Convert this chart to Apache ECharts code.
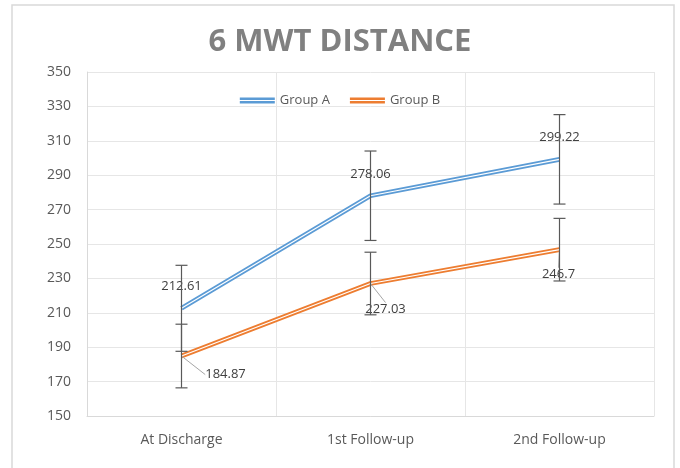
<!doctype html>
<html lang="en">
<head>
    <meta charset="utf-8">
    <title>6 MWT Distance</title>
    <style>
        html, body { margin: 0; padding: 0; background: #fff; }
        #chart { width: 680px; height: 468px; }
    </style>
</head>
<body>
    <div id="chart"></div>
    <script src="https://cdn.jsdelivr.net/npm/echarts@6/dist/echarts.min.js"></script>
    <script>
        var categories = ['At Discharge', '1st Follow-up', '2nd Follow-up'];
        var groupA = [212.61, 278.06, 299.22];
        var groupB = [184.87, 227.03, 246.7];
        var errA = [25, 26, 26];
        var errB = [18.5, 18.2, 18.2];

        var colorA = '#5b9bd5';
        var colorB = '#ed7d31';
        var font = 'Open Sans';

        // offsets for the Group B callouts, like the excel labels
        var labelOffsetB = [[44, 7], [15, 14], [-1, 13]];

        function errorSeries(values, errs) {
            return {
                type: 'custom',
                silent: true,
                z: 5,
                data: values.map(function (v, i) { return [i, v - errs[i], v + errs[i]]; }),
                renderItem: function (params, api) {
                    var lo = api.coord([api.value(0), api.value(1)]);
                    var hi = api.coord([api.value(0), api.value(2)]);
                    var w = 6;
                    var style = { stroke: '#595959', lineWidth: 1.2 };
                    return {
                        type: 'group',
                        children: [
                            { type: 'line', shape: { x1: hi[0], y1: hi[1], x2: lo[0], y2: lo[1] }, style: style },
                            { type: 'line', shape: { x1: hi[0] - w, y1: hi[1], x2: hi[0] + w, y2: hi[1] }, style: style },
                            { type: 'line', shape: { x1: lo[0] - w, y1: lo[1], x2: lo[0] + w, y2: lo[1] }, style: style }
                        ]
                    };
                }
            };
        }

        function innerLine(values) {
            return {
                type: 'line',
                data: values,
                silent: true,
                symbol: 'none',
                z: 3,
                lineStyle: { color: '#fff', width: 1.2 },
                animation: false
            };
        }

        var chart = echarts.init(document.getElementById('chart'));
        chart.setOption({
            animation: false,
            backgroundColor: '#fff',
            graphic: [{
                type: 'polyline',
                shape: { points: [[12, 468], [12, 5], [674, 5], [674, 468]] },
                style: { stroke: '#d9d9d9', lineWidth: 1.5, fill: null }
            }],
            title: {
                text: '6 MWT DISTANCE',
                left: 'center',
                top: 22,
                textStyle: { fontFamily: font, fontWeight: 'bold', fontSize: 31, color: '#808080' }
            },
            legend: {
                top: 89,
                left: 'center',
                itemWidth: 35,
                itemHeight: 6,
                itemGap: 20,
                textStyle: { fontFamily: font, fontSize: 13, color: '#595959' },
                data: [
                    { name: 'Group A', icon: 'path://M0,0H35V2.4H0ZM0,3.6H35V6H0Z', itemStyle: { color: colorA } },
                    { name: 'Group B', icon: 'path://M0,0H35V2.4H0ZM0,3.6H35V6H0Z', itemStyle: { color: colorB } }
                ]
            },
            grid: { left: 87, right: 26, top: 72, bottom: 52 },
            xAxis: {
                type: 'category',
                data: categories,
                boundaryGap: true,
                axisLine: { lineStyle: { color: '#d9d9d9' } },
                axisTick: { show: false },
                axisLabel: { fontFamily: font, fontSize: 14, color: '#595959', margin: 17 },
                splitLine: { show: true, lineStyle: { color: '#e6e6e6' } }
            },
            yAxis: {
                type: 'value',
                min: 150,
                max: 350,
                interval: 20,
                axisLine: { show: true, lineStyle: { color: '#d9d9d9' } },
                axisTick: { show: false },
                axisLabel: { fontFamily: font, fontSize: 14, color: '#595959', margin: 16 },
                splitLine: { lineStyle: { color: '#e6e6e6' } }
            },
            series: [
                {
                    name: 'Group A',
                    type: 'line',
                    data: groupA,
                    symbol: 'circle',
                    symbolSize: 0.1,
                    z: 2,
                    lineStyle: { color: colorA, width: 4.8 },
                    itemStyle: { color: colorA },
                    label: {
                        show: true,
                        position: 'top',
                        distance: 15,
                        fontFamily: font,
                        fontSize: 13,
                        color: '#404040'
                    }
                },
                innerLine(groupA),
                {
                    name: 'Group B',
                    type: 'line',
                    data: groupB,
                    symbol: 'circle',
                    symbolSize: 0.1,
                    z: 2,
                    lineStyle: { color: colorB, width: 4.8 },
                    itemStyle: { color: colorB },
                    label: {
                        show: true,
                        position: 'bottom',
                        distance: 5,
                        fontFamily: font,
                        fontSize: 13,
                        color: '#404040'
                    },
                    labelLine: { show: true, lineStyle: { color: '#a6a6a6', width: 1 } },
                    labelLayout: function (params) {
                        var o = labelOffsetB[params.dataIndex];
                        return { dx: o[0], dy: o[1] };
                    }
                },
                innerLine(groupB),
                errorSeries(groupA, errA),
                errorSeries(groupB, errB)
            ]
        });
    </script>
</body>
</html>
